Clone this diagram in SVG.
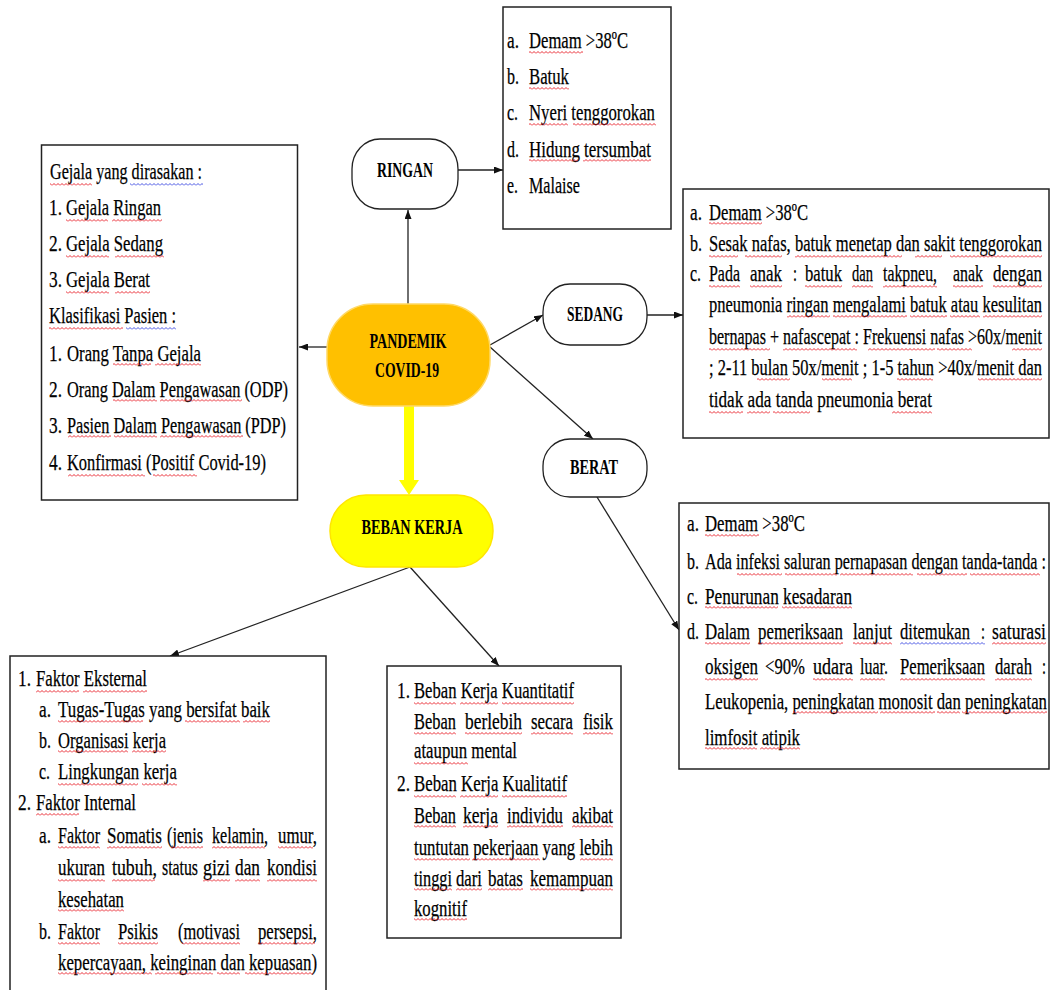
<svg xmlns="http://www.w3.org/2000/svg" width="1051" height="990" viewBox="0 0 1051 990">
  <style>
    .t { font-family: "Liberation Serif", "Times New Roman", serif; font-size: 23px; fill: #000; stroke: #000; stroke-width: 0.25; }
    .b { font-family: "Liberation Serif", "Times New Roman", serif; font-size: 22px; font-weight: bold; fill: #000; text-anchor: middle; }
    .box { fill: #fff; stroke: #222; stroke-width: 1.5; }
    .pill { fill: #fff; stroke: #222; stroke-width: 1.3; }
    .ln { stroke: #222; stroke-width: 1.3; fill: none; marker-end: url(#ah); }
    .sq rect { height: 3px; }
  </style>
  <defs>
    <marker id="ah" markerUnits="userSpaceOnUse" markerWidth="9" markerHeight="7" refX="9" refY="3.5" orient="auto">
      <path d="M0,0 L9,3.5 L0,7 z" fill="#111"/>
    </marker>
    <!-- wavy proofing underline, red for spelling and blue for grammar -->
    <pattern id="wr" width="4" height="3" patternUnits="userSpaceOnUse">
      <polyline points="0,2.5 2,0.5 4,2.5" fill="none" stroke="#e8141e" stroke-width="0.9"/>
    </pattern>
    <pattern id="wb" width="4" height="3" patternUnits="userSpaceOnUse">
      <polyline points="0,2.5 2,0.5 4,2.5" fill="none" stroke="#3340e0" stroke-width="0.9"/>
    </pattern>
  </defs>
  <rect width="1051" height="990" fill="#fff"/>

  <!-- connectors -->
  <g id="connectors">
    <line class="ln" x1="408" y1="304" x2="408" y2="210"/>
    <line class="ln" x1="458" y1="170" x2="503" y2="170"/>
    <line class="ln" x1="327" y1="347" x2="299" y2="347"/>
    <line class="ln" x1="490" y1="345" x2="543" y2="315"/>
    <line class="ln" x1="647" y1="315" x2="683" y2="315"/>
    <line class="ln" x1="490" y1="347" x2="593" y2="439"/>
    <line class="ln" x1="597" y1="497" x2="679" y2="630"/>
    <line class="ln" x1="410" y1="567" x2="170" y2="656"/>
    <line class="ln" x1="410" y1="567" x2="499" y2="666"/>
    <polygon points="404,406 414,406 414,480 419,480 409,495 399,480 404,480" fill="#ffff00"/>
  </g>

  <!-- central node -->
  <g id="pandemik">
    <rect x="327" y="304" width="163" height="102" rx="46" ry="46" fill="#ffc000" stroke="#ffd966" stroke-width="1.5"/>
    <text class="b" x="408" y="348" textLength="77" lengthAdjust="spacingAndGlyphs">PANDEMIK</text>
    <text class="b" x="407" y="377" textLength="64" lengthAdjust="spacingAndGlyphs">COVID-19</text>
  </g>

  <g id="beban-kerja">
    <rect x="330" y="495" width="163" height="72" rx="36" ry="36" fill="#ffff00" stroke="#ffe600" stroke-width="1.5"/>
    <text class="b" x="412" y="534" textLength="101" lengthAdjust="spacingAndGlyphs">BEBAN KERJA</text>
  </g>

  <g id="ringan">
    <rect class="pill" x="352" y="139" width="106" height="70" rx="28" ry="30"/>
    <text class="b" x="405" y="177" textLength="56" lengthAdjust="spacingAndGlyphs">RINGAN</text>
  </g>

  <g id="sedang">
    <rect class="pill" x="543" y="284" width="104" height="61" rx="27" ry="28"/>
    <text class="b" x="595" y="321" textLength="56" lengthAdjust="spacingAndGlyphs">SEDANG</text>
  </g>

  <g id="berat">
    <rect class="pill" x="543" y="439" width="104" height="58" rx="27" ry="27"/>
    <text class="b" x="594" y="474" textLength="48" lengthAdjust="spacingAndGlyphs">BERAT</text>
  </g>

  <!-- symptoms: mild -->
  <g id="ringan-detail">
    <rect class="box" x="503" y="7" width="168" height="222"/>
    <text class="t" x="507" y="48" textLength="12" lengthAdjust="spacingAndGlyphs">a.</text>
    <text class="t" x="529" y="48" textLength="99" lengthAdjust="spacingAndGlyphs">Demam &gt;38ºC</text>
    <text class="t" x="507" y="84" textLength="12" lengthAdjust="spacingAndGlyphs">b.</text>
    <text class="t" x="529" y="84" textLength="40" lengthAdjust="spacingAndGlyphs">Batuk</text>
    <text class="t" x="507" y="120" textLength="11" lengthAdjust="spacingAndGlyphs">c.</text>
    <text class="t" x="529" y="120" textLength="126" lengthAdjust="spacingAndGlyphs">Nyeri tenggorokan</text>
    <text class="t" x="507" y="157" textLength="12" lengthAdjust="spacingAndGlyphs">d.</text>
    <text class="t" x="529" y="157" textLength="122" lengthAdjust="spacingAndGlyphs">Hidung tersumbat</text>
    <text class="t" x="507" y="193" textLength="11" lengthAdjust="spacingAndGlyphs">e.</text>
    <text class="t" x="529" y="193" textLength="51" lengthAdjust="spacingAndGlyphs">Malaise</text>
  </g>

  <!-- symptoms and patient classes -->
  <g id="gejala">
    <rect class="box" x="41.5" y="145" width="256" height="355"/>
    <text class="t" x="50" y="179" textLength="152" lengthAdjust="spacingAndGlyphs">Gejala yang dirasakan :</text>
    <text class="t" x="49" y="215" textLength="13" lengthAdjust="spacingAndGlyphs">1.</text>
    <text class="t" x="66" y="215" textLength="95" lengthAdjust="spacingAndGlyphs">Gejala Ringan</text>
    <text class="t" x="49" y="251" textLength="13" lengthAdjust="spacingAndGlyphs">2.</text>
    <text class="t" x="66" y="251" textLength="97" lengthAdjust="spacingAndGlyphs">Gejala Sedang</text>
    <text class="t" x="49" y="287" textLength="13" lengthAdjust="spacingAndGlyphs">3.</text>
    <text class="t" x="66" y="287" textLength="84" lengthAdjust="spacingAndGlyphs">Gejala Berat</text>
    <text class="t" x="49" y="323" textLength="127" lengthAdjust="spacingAndGlyphs">Klasifikasi Pasien :</text>
    <text class="t" x="49" y="361" textLength="13" lengthAdjust="spacingAndGlyphs">1.</text>
    <text class="t" x="67" y="361" textLength="134" lengthAdjust="spacingAndGlyphs">Orang Tanpa Gejala</text>
    <text class="t" x="49" y="397" textLength="13" lengthAdjust="spacingAndGlyphs">2.</text>
    <text class="t" x="67" y="397" textLength="221" lengthAdjust="spacingAndGlyphs">Orang Dalam Pengawasan (ODP)</text>
    <text class="t" x="49" y="433" textLength="13" lengthAdjust="spacingAndGlyphs">3.</text>
    <text class="t" x="67" y="433" textLength="219" lengthAdjust="spacingAndGlyphs">Pasien Dalam Pengawasan (PDP)</text>
    <text class="t" x="49" y="470" textLength="13" lengthAdjust="spacingAndGlyphs">4.</text>
    <text class="t" x="67" y="470" textLength="199" lengthAdjust="spacingAndGlyphs">Konfirmasi (Positif Covid-19)</text>
  </g>

  <!-- symptoms: moderate -->
  <g id="sedang-detail">
    <rect class="box" x="683" y="189" width="366" height="249"/>
    <text class="t" x="690" y="220" textLength="12" lengthAdjust="spacingAndGlyphs">a.</text>
    <text class="t" x="709" y="220" textLength="99" lengthAdjust="spacingAndGlyphs">Demam &gt;38ºC</text>
    <text class="t" x="690" y="251" textLength="12" lengthAdjust="spacingAndGlyphs">b.</text>
    <text class="t" x="709" y="251" textLength="333" lengthAdjust="spacingAndGlyphs">Sesak nafas, batuk menetap dan sakit tenggorokan</text>
    <text class="t" x="690" y="281" textLength="11" lengthAdjust="spacingAndGlyphs">c.</text>
    <text class="t" x="709" y="281" textLength="31" lengthAdjust="spacingAndGlyphs">Pada</text>
    <text class="t" x="750" y="281" textLength="32" lengthAdjust="spacingAndGlyphs">anak</text>
    <text class="t" x="793" y="281" textLength="4" lengthAdjust="spacingAndGlyphs">:</text>
    <text class="t" x="805" y="281" textLength="37" lengthAdjust="spacingAndGlyphs">batuk</text>
    <text class="t" x="852" y="281" textLength="21" lengthAdjust="spacingAndGlyphs">dan</text>
    <text class="t" x="883" y="281" textLength="54" lengthAdjust="spacingAndGlyphs">takpneu,</text>
    <text class="t" x="953" y="281" textLength="30" lengthAdjust="spacingAndGlyphs">anak</text>
    <text class="t" x="993" y="281" textLength="49" lengthAdjust="spacingAndGlyphs">dengan</text>
    <text class="t" x="709" y="312" textLength="333" lengthAdjust="spacingAndGlyphs">pneumonia ringan mengalami batuk atau kesulitan</text>
    <text class="t" x="709" y="344" textLength="333" lengthAdjust="spacingAndGlyphs">bernapas + nafascepat : Frekuensi nafas &gt;60x/menit</text>
    <text class="t" x="709" y="375" textLength="333" lengthAdjust="spacingAndGlyphs">; 2-11 bulan 50x/menit ; 1-5 tahun &gt;40x/menit dan</text>
    <text class="t" x="709" y="407" textLength="223" lengthAdjust="spacingAndGlyphs">tidak ada tanda pneumonia berat</text>
  </g>

  <!-- symptoms: severe -->
  <g id="berat-detail">
    <rect class="box" x="679" y="503" width="370" height="266"/>
    <text class="t" x="687" y="531" textLength="12" lengthAdjust="spacingAndGlyphs">a.</text>
    <text class="t" x="705" y="531" textLength="100" lengthAdjust="spacingAndGlyphs">Demam &gt;38ºC</text>
    <text class="t" x="687" y="569" textLength="12" lengthAdjust="spacingAndGlyphs">b.</text>
    <text class="t" x="705" y="569" textLength="341" lengthAdjust="spacingAndGlyphs">Ada infeksi saluran pernapasan dengan tanda-tanda :</text>
    <text class="t" x="687" y="604" textLength="11" lengthAdjust="spacingAndGlyphs">c.</text>
    <text class="t" x="705" y="604" textLength="147" lengthAdjust="spacingAndGlyphs">Penurunan kesadaran</text>
    <text class="t" x="687" y="639" textLength="12" lengthAdjust="spacingAndGlyphs">d.</text>
    <text class="t" x="705" y="639" textLength="45" lengthAdjust="spacingAndGlyphs">Dalam</text>
    <text class="t" x="758" y="639" textLength="85" lengthAdjust="spacingAndGlyphs">pemeriksaan</text>
    <text class="t" x="853" y="639" textLength="39" lengthAdjust="spacingAndGlyphs">lanjut</text>
    <text class="t" x="900" y="639" textLength="70" lengthAdjust="spacingAndGlyphs">ditemukan</text>
    <text class="t" x="981" y="639" textLength="4" lengthAdjust="spacingAndGlyphs">:</text>
    <text class="t" x="992" y="639" textLength="54" lengthAdjust="spacingAndGlyphs">saturasi</text>
    <text class="t" x="705" y="674" textLength="53" lengthAdjust="spacingAndGlyphs">oksigen</text>
    <text class="t" x="765" y="674" textLength="40" lengthAdjust="spacingAndGlyphs">&lt;90%</text>
    <text class="t" x="813" y="674" textLength="40" lengthAdjust="spacingAndGlyphs">udara</text>
    <text class="t" x="860" y="674" textLength="28" lengthAdjust="spacingAndGlyphs">luar.</text>
    <text class="t" x="900" y="674" textLength="85" lengthAdjust="spacingAndGlyphs">Pemeriksaan</text>
    <text class="t" x="995" y="674" textLength="37" lengthAdjust="spacingAndGlyphs">darah</text>
    <text class="t" x="1042" y="674" textLength="4" lengthAdjust="spacingAndGlyphs">:</text>
    <text class="t" x="705" y="709" textLength="342" lengthAdjust="spacingAndGlyphs">Leukopenia, peningkatan monosit dan peningkatan</text>
    <text class="t" x="705" y="745" textLength="95" lengthAdjust="spacingAndGlyphs">limfosit atipik</text>
  </g>

  <!-- external and internal factors -->
  <g id="faktor">
    <rect class="box" x="10" y="656" width="316" height="345"/>
    <text class="t" x="18" y="686" textLength="13" lengthAdjust="spacingAndGlyphs">1.</text>
    <text class="t" x="36" y="686" textLength="111" lengthAdjust="spacingAndGlyphs">Faktor Eksternal</text>
    <text class="t" x="39" y="717" textLength="12" lengthAdjust="spacingAndGlyphs">a.</text>
    <text class="t" x="58" y="717" textLength="212" lengthAdjust="spacingAndGlyphs">Tugas-Tugas yang bersifat baik</text>
    <text class="t" x="39" y="748" textLength="12" lengthAdjust="spacingAndGlyphs">b.</text>
    <text class="t" x="58" y="748" textLength="108" lengthAdjust="spacingAndGlyphs">Organisasi kerja</text>
    <text class="t" x="39" y="779" textLength="11" lengthAdjust="spacingAndGlyphs">c.</text>
    <text class="t" x="58" y="779" textLength="119" lengthAdjust="spacingAndGlyphs">Lingkungan kerja</text>
    <text class="t" x="18" y="810" textLength="13" lengthAdjust="spacingAndGlyphs">2.</text>
    <text class="t" x="36" y="810" textLength="100" lengthAdjust="spacingAndGlyphs">Faktor Internal</text>
    <text class="t" x="39" y="843" textLength="12" lengthAdjust="spacingAndGlyphs">a.</text>
    <text class="t" x="58" y="843" textLength="42" lengthAdjust="spacingAndGlyphs">Faktor</text>
    <text class="t" x="107" y="843" textLength="55" lengthAdjust="spacingAndGlyphs">Somatis</text>
    <text class="t" x="167" y="843" textLength="36" lengthAdjust="spacingAndGlyphs">(jenis</text>
    <text class="t" x="212" y="843" textLength="56" lengthAdjust="spacingAndGlyphs">kelamin,</text>
    <text class="t" x="278" y="843" textLength="39" lengthAdjust="spacingAndGlyphs">umur,</text>
    <text class="t" x="58" y="875" textLength="47" lengthAdjust="spacingAndGlyphs">ukuran</text>
    <text class="t" x="112" y="875" textLength="45" lengthAdjust="spacingAndGlyphs">tubuh,</text>
    <text class="t" x="162" y="875" textLength="36" lengthAdjust="spacingAndGlyphs">status</text>
    <text class="t" x="203" y="875" textLength="27" lengthAdjust="spacingAndGlyphs">gizi</text>
    <text class="t" x="235" y="875" textLength="25" lengthAdjust="spacingAndGlyphs">dan</text>
    <text class="t" x="267" y="875" textLength="50" lengthAdjust="spacingAndGlyphs">kondisi</text>
    <text class="t" x="58" y="907" textLength="66" lengthAdjust="spacingAndGlyphs">kesehatan</text>
    <text class="t" x="39" y="939" textLength="12" lengthAdjust="spacingAndGlyphs">b.</text>
    <text class="t" x="58" y="939" textLength="42" lengthAdjust="spacingAndGlyphs">Faktor</text>
    <text class="t" x="118" y="939" textLength="40" lengthAdjust="spacingAndGlyphs">Psikis</text>
    <text class="t" x="178" y="939" textLength="62" lengthAdjust="spacingAndGlyphs">(motivasi</text>
    <text class="t" x="258" y="939" textLength="59" lengthAdjust="spacingAndGlyphs">persepsi,</text>
    <text class="t" x="58" y="970" textLength="259" lengthAdjust="spacingAndGlyphs">kepercayaan, keinginan dan kepuasan)</text>
  </g>

  <!-- workload types -->
  <g id="jenis-beban">
    <rect class="box" x="387" y="666" width="234" height="272"/>
    <text class="t" x="397" y="698" textLength="13" lengthAdjust="spacingAndGlyphs">1.</text>
    <text class="t" x="414" y="698" textLength="160" lengthAdjust="spacingAndGlyphs">Beban Kerja Kuantitatif</text>
    <text class="t" x="414" y="729" textLength="42" lengthAdjust="spacingAndGlyphs">Beban</text>
    <text class="t" x="465" y="729" textLength="57" lengthAdjust="spacingAndGlyphs">berlebih</text>
    <text class="t" x="531" y="729" textLength="42" lengthAdjust="spacingAndGlyphs">secara</text>
    <text class="t" x="583" y="729" textLength="30" lengthAdjust="spacingAndGlyphs">fisik</text>
    <text class="t" x="414" y="758" textLength="103" lengthAdjust="spacingAndGlyphs">ataupun mental</text>
    <text class="t" x="397" y="791" textLength="13" lengthAdjust="spacingAndGlyphs">2.</text>
    <text class="t" x="414" y="791" textLength="153" lengthAdjust="spacingAndGlyphs">Beban Kerja Kualitatif</text>
    <text class="t" x="414" y="823" textLength="42" lengthAdjust="spacingAndGlyphs">Beban</text>
    <text class="t" x="463" y="823" textLength="35" lengthAdjust="spacingAndGlyphs">kerja</text>
    <text class="t" x="507" y="823" textLength="56" lengthAdjust="spacingAndGlyphs">individu</text>
    <text class="t" x="572" y="823" textLength="41" lengthAdjust="spacingAndGlyphs">akibat</text>
    <text class="t" x="414" y="855" textLength="199" lengthAdjust="spacingAndGlyphs">tuntutan pekerjaan yang lebih</text>
    <text class="t" x="414" y="886" textLength="38" lengthAdjust="spacingAndGlyphs">tinggi</text>
    <text class="t" x="456" y="886" textLength="26" lengthAdjust="spacingAndGlyphs">dari</text>
    <text class="t" x="488" y="886" textLength="35" lengthAdjust="spacingAndGlyphs">batas</text>
    <text class="t" x="530" y="886" textLength="83" lengthAdjust="spacingAndGlyphs">kemampuan</text>
    <text class="t" x="414" y="916" textLength="53" lengthAdjust="spacingAndGlyphs">kognitif</text>
  </g>

  <!-- wavy proofing marks under flagged words -->
  <g id="proofing-red" class="sq" fill="url(#wr)">
    <rect x="529" y="51" width="54"/>
    <rect x="529" y="87" width="40"/>
    <rect x="529" y="123" width="39"/><rect x="573" y="123" width="83"/>
    <rect x="529" y="159" width="49"/><rect x="583" y="159" width="68"/>

    <rect x="50" y="183" width="42"/>
    <rect x="66" y="219" width="42"/><rect x="112" y="219" width="50"/>
    <rect x="66" y="255" width="43"/><rect x="115" y="255" width="49"/>
    <rect x="66" y="291" width="43"/><rect x="115" y="291" width="35"/>
    <rect x="49" y="327" width="74"/>
    <rect x="113" y="363" width="38"/><rect x="155" y="363" width="46"/>
    <rect x="113" y="399" width="44"/><rect x="160" y="399" width="82"/>
    <rect x="68" y="435" width="43"/><rect x="114" y="435" width="43"/><rect x="160" y="435" width="83"/>
    <rect x="68" y="474" width="77"/><rect x="153" y="474" width="44"/>

    <rect x="709" y="222" width="53"/>
    <rect x="709" y="255" width="29"/><rect x="745" y="255" width="37"/><rect x="795" y="255" width="107"/><rect x="915" y="255" width="27"/><rect x="950" y="255" width="92"/>
    <rect x="709" y="285" width="31"/><rect x="750" y="285" width="32"/><rect x="805" y="285" width="37"/><rect x="852" y="285" width="21"/><rect x="883" y="285" width="54"/><rect x="953" y="285" width="30"/><rect x="993" y="285" width="49"/>
    <rect x="787" y="315" width="43"/><rect x="833" y="315" width="74"/><rect x="910" y="315" width="37"/><rect x="950" y="315" width="30"/><rect x="983" y="315" width="59"/>
    <rect x="709" y="348" width="61"/><rect x="783" y="348" width="74"/><rect x="868" y="348" width="67"/><rect x="937" y="348" width="35"/><rect x="1012" y="348" width="30"/>
    <rect x="757" y="378" width="33"/><rect x="822" y="378" width="30"/><rect x="897" y="378" width="36"/><rect x="978" y="378" width="64"/>
    <rect x="709" y="411" width="34"/><rect x="747" y="411" width="23"/><rect x="773" y="411" width="37"/><rect x="892" y="411" width="40"/>

    <rect x="705" y="534" width="54"/>
    <rect x="737" y="573" width="45"/><rect x="785" y="573" width="52"/><rect x="840" y="573" width="73"/><rect x="917" y="573" width="50"/><rect x="970" y="573" width="70"/>
    <rect x="705" y="606" width="73"/><rect x="782" y="606" width="70"/>
    <rect x="705" y="642" width="45"/><rect x="758" y="642" width="85"/><rect x="853" y="642" width="39"/><rect x="992" y="642" width="54"/>
    <rect x="705" y="678" width="53"/><rect x="813" y="678" width="40"/><rect x="860" y="678" width="25"/><rect x="900" y="678" width="85"/><rect x="995" y="678" width="37"/>
    <rect x="793" y="711" width="85"/><rect x="880" y="711" width="55"/><rect x="937" y="711" width="23"/><rect x="962" y="711" width="85"/>
    <rect x="705" y="747" width="52"/><rect x="760" y="747" width="40"/>

    <rect x="36" y="690" width="43"/><rect x="83" y="690" width="64"/>
    <rect x="58" y="720" width="85"/><rect x="185" y="720" width="55"/><rect x="243" y="720" width="27"/>
    <rect x="58" y="750" width="70"/><rect x="132" y="750" width="34"/>
    <rect x="58" y="783" width="80"/><rect x="142" y="783" width="35"/>
    <rect x="36" y="813" width="43"/>
    <rect x="58" y="846" width="42"/><rect x="107" y="846" width="55"/><rect x="171" y="846" width="32"/><rect x="212" y="846" width="53"/><rect x="278" y="846" width="35"/>
    <rect x="58" y="879" width="47"/><rect x="112" y="879" width="43"/><rect x="203" y="879" width="27"/><rect x="235" y="879" width="25"/><rect x="267" y="879" width="50"/>
    <rect x="58" y="909" width="66"/>
    <rect x="58" y="942" width="42"/><rect x="118" y="942" width="40"/><rect x="182" y="942" width="58"/><rect x="258" y="942" width="57"/>
    <rect x="58" y="972" width="94"/><rect x="155" y="972" width="58"/><rect x="217" y="972" width="23"/><rect x="245" y="972" width="68"/>

    <rect x="414" y="702" width="42"/><rect x="460" y="702" width="38"/><rect x="502" y="702" width="72"/>
    <rect x="414" y="732" width="42"/><rect x="465" y="732" width="57"/><rect x="531" y="732" width="42"/><rect x="583" y="732" width="30"/>
    <rect x="414" y="762" width="54"/>
    <rect x="414" y="795" width="42"/><rect x="460" y="795" width="38"/><rect x="502" y="795" width="65"/>
    <rect x="414" y="825" width="42"/><rect x="463" y="825" width="35"/><rect x="507" y="825" width="56"/><rect x="572" y="825" width="41"/>
    <rect x="414" y="858" width="56"/><rect x="472" y="858" width="68"/><rect x="580" y="858" width="33"/>
    <rect x="414" y="888" width="38"/><rect x="456" y="888" width="26"/><rect x="488" y="888" width="35"/><rect x="530" y="888" width="83"/>
    <rect x="414" y="918" width="53"/>
  </g>
  <g id="proofing-blue" class="sq" fill="url(#wb)">
    <rect x="130" y="183" width="73"/>
    <rect x="126" y="327" width="50"/>
    <rect x="900" y="642" width="85"/>
  </g>
</svg>
